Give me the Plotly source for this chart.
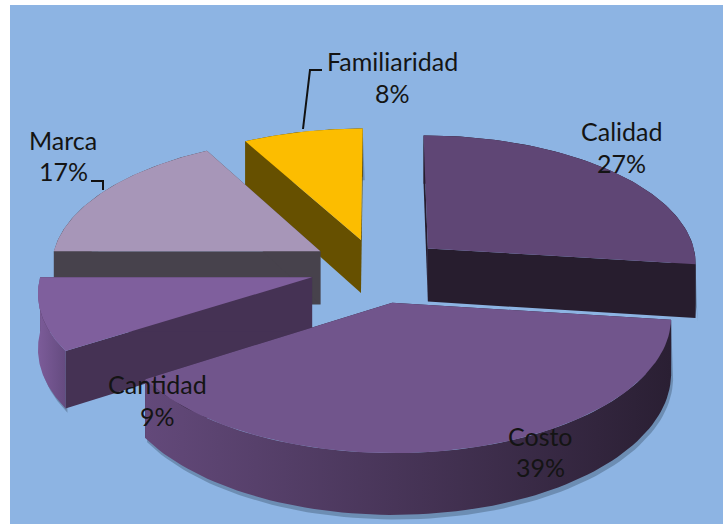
import numpy as np
import plotly.graph_objects as go

LABELS = ["Calidad", "Costo", "Cantidad", "Marca", "Familiaridad"]
VALUES = [27, 39, 9, 17, 8]

TOP_COLORS = ["#5f4675", "#71558c", "#7f5f9d", "#a796b8", "#fcbd00"]
CUT_COLORS = ["#271d2e", "#2c2136", "#453254", "#47424c", "#665000"]
RIM_COLORS = [
    ("#271d2e", "#271d2e"),
    ("#63497a", "#2a1f33"),
    ("#7c5c99", "#654b80"),
    ("#47424c", "#47424c"),
    ("#665000", "#665000"),
]
LABEL_POS = [(621, 131), (540, 436), (157, 384), (63, 140), (392, 61)]
VALUE_POS = [(621, 163), (540, 467), (157, 416), (63, 171), (392, 93)]

CX, CY = 380, 268
RX, RY = 270, 128
PERSP = 0.1
EXPLODE = [0.235, 0.27, 0.26, 0.26, 0.23]
NUDGE_X = [1, -4, 0, 0, -4]
DEPTH = 54
BG = "#8db4e3"


def project(x, y, h=0.0):
    p = 1 / (1 + PERSP * y)
    return CX + RX * x * p, CY - RY * y * p + h * p


def polygon(xs, ys, color, gradient=None):
    kw = dict(fillcolor=color)
    if gradient:
        kw = dict(fillgradient=dict(
            type="horizontal",
            colorscale=[[0, gradient[0]], [1, gradient[1]]],
        ))
    return go.Scatter(
        x=xs, y=ys, mode="lines", fill="toself",
        line=dict(width=0), hoverinfo="skip", showlegend=False, **kw,
    )


def slice_traces(i, start, end):
    mid = np.radians((start + end) / 2)
    ox, oy = EXPLODE[i] * np.sin(mid) + NUDGE_X[i] / RX, EXPLODE[i] * np.cos(mid)
    theta = np.radians(np.linspace(start, end, 80))
    rim_x = ox + np.sin(theta)
    rim_y = oy + np.cos(theta)

    top_x, top_y = project(rim_x, rim_y)
    low_x, low_y = project(rim_x, rim_y, DEPTH)
    ax, ay = project(ox, oy)
    bx, by = project(ox, oy, DEPTH)

    out = []
    # soft shadow just past the lower edge
    sx, sy = project(rim_x, rim_y, DEPTH + 4)
    out.append(polygon(
        np.r_[top_x, sx[::-1] + 2, top_x[0]],
        np.r_[top_y, sy[::-1], top_y[0]],
        "rgba(50,70,90,0.35)",
    ))
    for k in (0, -1):
        out.append(polygon(
            [ax, top_x[k], low_x[k], bx, ax],
            [ay, top_y[k], low_y[k], by, ay],
            CUT_COLORS[i],
        ))
    out.append(polygon(
        np.r_[top_x, low_x[::-1], top_x[0]],
        np.r_[top_y, low_y[::-1], top_y[0]],
        RIM_COLORS[i][0], gradient=RIM_COLORS[i],
    ))
    out.append(polygon(
        np.r_[ax, top_x, ax], np.r_[ay, top_y, ay], TOP_COLORS[i],
    ))
    return out


shares = np.array(VALUES) / sum(VALUES) * 360
ends = np.cumsum(shares)
starts = ends - shares
mids = np.radians((starts + ends) / 2)

fig = go.Figure()
# back slices first so the front ones paint over them
for i in np.argsort(-np.cos(mids)):
    for tr in slice_traces(i, starts[i], ends[i]):
        fig.add_trace(tr)

for pts in ([(303, 129), (310, 70), (322, 70)], [(103, 190), (103, 181), (91, 181)]):
    fig.add_trace(go.Scatter(
        x=[p[0] for p in pts], y=[p[1] for p in pts], mode="lines",
        line=dict(color="#111111", width=2), hoverinfo="skip", showlegend=False,
    ))

for name, val, lp, vp in zip(LABELS, VALUES, LABEL_POS, VALUE_POS):
    for text, pos in ((name, lp), (f"{val}%", vp)):
        fig.add_annotation(
            x=pos[0], y=pos[1], text=text, showarrow=False,
            font=dict(family="Lato", size=25, color="#141414"),
        )

fig.add_shape(
    type="rect", x0=10, y0=5, x1=723, y1=524, layer="below",
    line=dict(width=0), fillcolor=BG,
)
fig.update_xaxes(range=[0, 723], visible=False, fixedrange=True)
fig.update_yaxes(range=[524, 0], visible=False, fixedrange=True)
fig.update_layout(
    width=723, height=524,
    margin=dict(l=0, r=0, t=0, b=0),
    paper_bgcolor="white", plot_bgcolor="white",
)
fig.write_html(
    "out.html",
    config=dict(displayModeBar=False),
    post_script="document.body.style.margin='0';document.body.style.overflow='hidden';",
)
